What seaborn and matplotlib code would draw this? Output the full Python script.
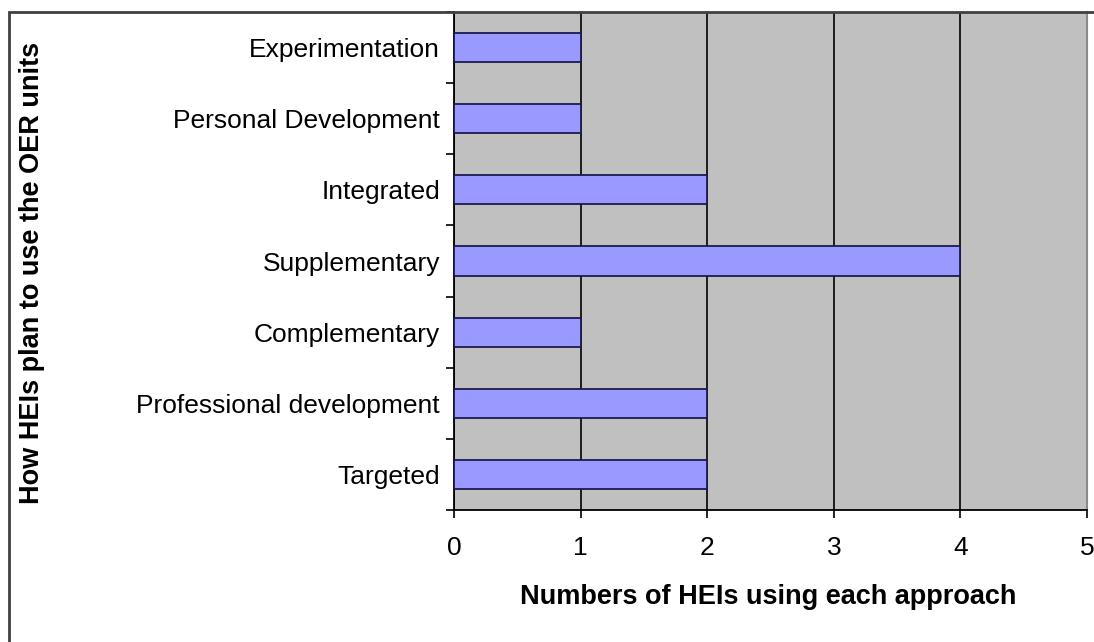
import matplotlib
matplotlib.use("Agg")
import matplotlib.pyplot as plt
from matplotlib.patches import Rectangle
from matplotlib.ticker import FixedLocator
import seaborn as sns
import pandas as pd

categories = ["Experimentation", "Personal Development", "Integrated", "Supplementary",
              "Complementary", "Professional development", "Targeted"]
counts = [1, 1, 2, 4, 1, 2, 2]
x_ticks = [0, 1, 2, 3, 4, 5]
x_label = "Numbers of HEIs using each approach"
y_label = "How HEIs plan to use the OER units"

df = pd.DataFrame({"approach": categories, "count": counts})

sns.set_theme(style="white")
plt.rcParams["font.family"] = ["Liberation Sans", "DejaVu Sans"]

W, H = 1094, 642
fig = plt.figure(figsize=(W / 100, H / 100), dpi=100)
ax = fig.add_axes([454 / W, 1 - 510 / H, (1087 - 454) / W, (510 - 12) / H])
ax.set_facecolor("#C0C0C0")

sns.barplot(data=df, x="count", y="approach", orient="h", color="#9999FF",
            edgecolor="#1a1a50", linewidth=1.3, width=0.41, saturation=1, ax=ax, zorder=3)

ax.set_xlim(0, 5)
ax.set_ylim(6.5, -0.5)
ax.set_xticks(x_ticks)
ax.set_xticklabels([str(t) for t in x_ticks])
ax.grid(axis="x", color="black", linewidth=1.2, zorder=1)
ax.grid(axis="y", visible=False)
ax.set_axisbelow(True)

ax.yaxis.set_minor_locator(FixedLocator([i + 0.5 for i in range(-1, len(categories))]))
ax.tick_params(axis="y", which="major", length=0, pad=10, labelsize=19, labelcolor="black")
ax.tick_params(axis="y", which="minor", length=6, width=1.2, color="black", direction="out", left=True)
ax.tick_params(axis="x", which="major", length=6, width=1.2, color="black", direction="out",
               bottom=True, pad=13, labelsize=19, labelcolor="black")

for side in ["left", "bottom"]:
    ax.spines[side].set_color("black")
    ax.spines[side].set_linewidth(1.3)
ax.spines["top"].set_visible(False)
ax.spines["right"].set_color("#8a8a8a")
ax.spines["right"].set_linewidth(1.5)

ax.set_xlabel(x_label, fontsize=19.5, fontweight="bold", color="black")
ax.set_ylabel(y_label, fontsize=19.5, fontweight="bold", color="black")
ax.xaxis.set_label_coords(0.496, -0.175)
ax.xaxis.label.set_va("center")
ax.yaxis.set_label_coords((32 - 454) / 633, 0.476)
ax.yaxis.label.set_va("center")

# outer chart-area border (cropped on right and bottom)
fig.patches.append(Rectangle((9 / W, -0.1), 1.2, 1 - 12 / H + 0.1, transform=fig.transFigure,
                             fill=False, edgecolor="#404040", linewidth=2, zorder=10))

fig.savefig("out.png", dpi=100, facecolor="white")
